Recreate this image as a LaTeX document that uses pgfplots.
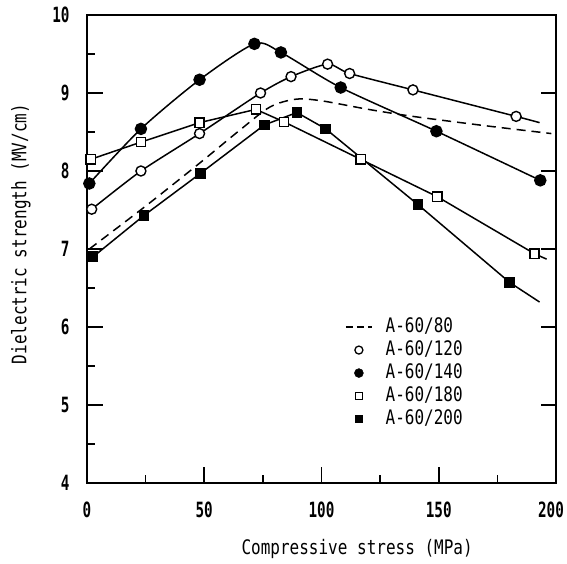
\documentclass[border=0pt]{standalone}
\usepackage{pgfplots}
\pgfplotsset{compat=1.18}
\usepackage{pgfplotstable}
\usepackage{fontspec}
\newfontfamily\lblfont[FakeStretch=0.8]{DejaVu Sans Mono}
\newfontfamily\tckfont[FakeStretch=0.68]{DejaVu Sans Mono}
\pgfplotsset{
  lgline/.style={legend image code/.code={\draw[##1] (0pt,0pt) -- (26pt,0pt);}},
  lgmark/.style={legend image code/.code={\draw[mark repeat=2,mark phase=2,##1] plot coordinates {(0pt,0pt) (13pt,0pt) (26pt,0pt)};}},
}
\pgfplotstableread{
x y
1 7.0
25 7.55
48 8.1
65 8.52
78 8.82
89 8.92
100 8.9
120 8.79
139 8.70
170 8.58
198 8.48
}\tabA
\pgfplotstableread{
x y
2 7.51
23 8.0
48 8.48
74 9.0
87 9.21
102.6 9.37
112 9.25
139 9.04
183 8.70
193 8.62
}\tabB
\pgfplotstableread{
x y
1 7.84
23 8.54
48 9.17
71.4 9.63
82.7 9.52
108.2 9.07
149 8.51
193.3 7.88
}\tabC
\pgfplotstableread{
x y
1.6 8.15
23 8.37
48 8.62
72 8.79
84 8.63
116.7 8.15
149.4 7.67
190.8 6.94
196 6.87
}\tabD
\pgfplotstableread{
x y
2.6 6.9
24.3 7.43
48.4 7.97
75.6 8.59
89.5 8.75
101.8 8.54
141.1 7.57
180.3 6.57
193 6.32
}\tabE
\begin{document}
\begin{tikzpicture}
\begin{axis}[
  scale only axis, width=469pt, height=468pt,
  xmin=0, xmax=200, ymin=4, ymax=10,
  xtick={0,50,100,150,200}, ytick={4,5,6,7,8,9,10},
  xticklabels={0,50,100,150,{\hspace*{-10pt}200}},
  minor x tick num=1, minor y tick num=1,
  xtick pos=left, ytick pos=left,
  tick align=inside,
  major tick length=16pt, minor tick length=8pt,
  tick style={line width=1.6pt, black},
  axis line style={line width=2pt},
  /pgf/number format/assume math mode=true,
  ticklabel style={font=\tckfont\bfseries\fontsize{21}{24}\selectfont},
  yticklabel style={xshift=-14pt},
  xticklabel style={yshift=-15pt},
  xlabel={Compressive stress (MPa)},
  ylabel={Dielectric strength (MV/cm)},
  label style={font=\lblfont\fontsize{20}{24}\selectfont},
  xlabel style={at={(axis description cs:0.576,-0.142)}, anchor=center},
  ylabel style={at={(axis description cs:-0.141,0.532)}, anchor=center},
  legend cell align=left,
  legend style={at={(axis description cs:0.55,0.355)}, anchor=north west, draw=none, fill=none,
    inner sep=0pt, row sep=3pt, column sep=12pt,
    font=\lblfont\fontsize{20}{24}\selectfont,
    nodes={inner sep=1pt, text height=14pt, text depth=4pt}},
]
\coordinate (bl) at (rel axis cs:0,0);
\coordinate (tr) at (rel axis cs:1,1);
\addplot[black, line width=1.5pt, dash pattern=on 9pt off 6pt, smooth, tension=0.5, forget plot] table {\tabA};
\addplot[black, line width=1.5pt, smooth, tension=0.4, mark=*, mark size=5pt,
  mark options={solid, fill=white, line width=1.4pt}, mark indices={1,2,3,4,5,6,7,8,9}, forget plot] table {\tabB};
\addplot[black, line width=1.5pt, smooth, tension=0.45, mark=*, mark size=5.5pt,
  mark options={solid, fill=black}, forget plot] table {\tabC};
\addplot[black, line width=1.5pt, mark=square*, mark size=4.6pt,
  mark options={solid, fill=white, line width=1.4pt}, mark indices={1,2,3,4,5,6,7,8}, forget plot] table {\tabD};
\addplot[black, line width=1.5pt, mark=square*, mark size=4.6pt,
  mark options={solid, fill=black}, mark indices={1,2,3,4,5,6,7,8}, forget plot] table {\tabE};
\addlegendimage{black, line width=1.5pt, dash pattern=on 7pt off 4pt, lgline}
\addlegendentry{A-60/80}
\addlegendimage{black, only marks, mark=*, mark size=4pt, mark options={fill=white, line width=1.3pt}, lgmark}
\addlegendentry{A-60/120}
\addlegendimage{black, only marks, mark=*, mark size=4.5pt, mark options={fill=black}, lgmark}
\addlegendentry{A-60/140}
\addlegendimage{black, only marks, mark=square*, mark size=3.5pt, mark options={fill=white, line width=1.3pt}, lgmark}
\addlegendentry{A-60/180}
\addlegendimage{black, only marks, mark=square*, mark size=3.5pt, mark options={fill=black}, lgmark}
\addlegendentry{A-60/200}
\end{axis}
\begin{axis}[
  scale only axis, width=469pt, height=468pt,
  xmin=0, xmax=200, ymin=4, ymax=10,
  axis x line=none, axis y line*=right,
  ytick={5,6,7,8,9}, yticklabels={},
  minor tick num=0,
  tick align=inside, major tick length=15pt,
  tick style={line width=1.6pt, black},
  axis line style={line width=2pt},
]
\end{axis}
\pgfresetboundingbox
\path ([shift={(-87pt,-80pt)}]bl) rectangle ([shift={(11pt,15pt)}]tr);
\end{tikzpicture}
\end{document}
